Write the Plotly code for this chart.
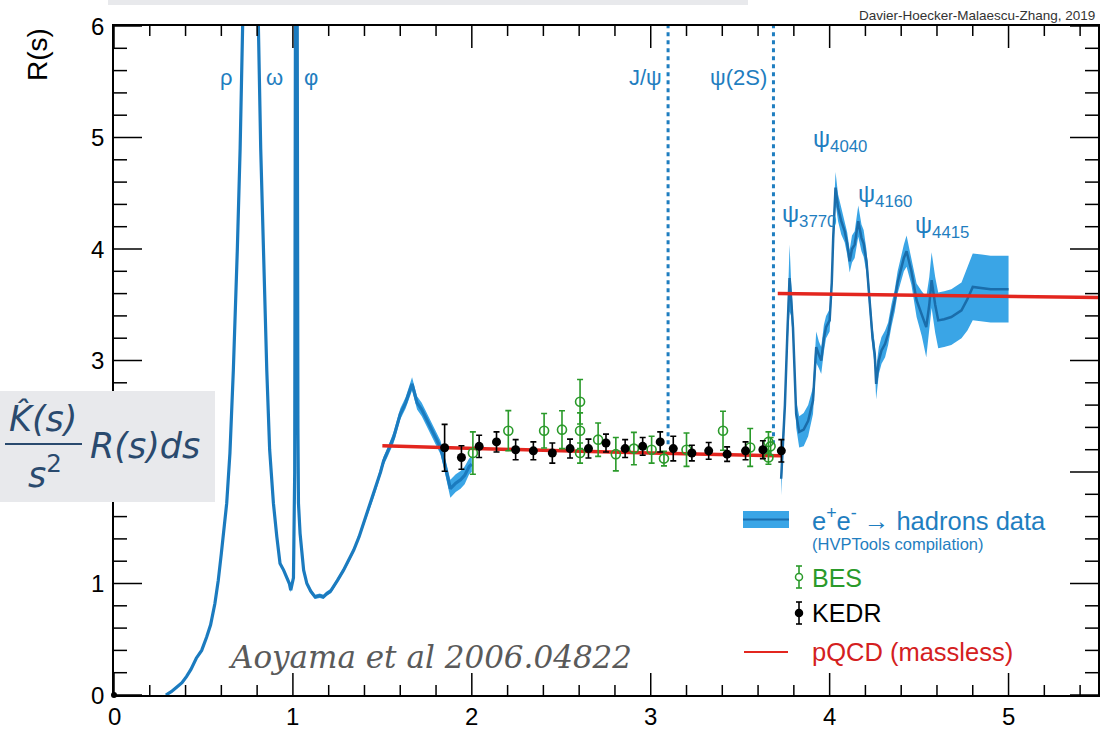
import plotly.graph_objects as go

# ---------------- data ----------------
# e+e- -> hadrons compilation, low-energy part (sqrt(s) in GeV, R)
lo_x = [0.29, 0.32, 0.35, 0.38, 0.405, 0.43, 0.46, 0.49, 0.518, 0.54,
        0.564, 0.583, 0.60, 0.611, 0.63, 0.648, 0.667, 0.689, 0.705, 0.719,
        0.74, 0.775, 0.782, 0.795, 0.807, 0.82, 0.835, 0.854, 0.87, 0.891,
        0.91, 0.928, 0.948, 0.966, 0.98, 0.988, 0.995, 1.003, 1.010, 1.016,
        1.019, 1.022, 1.028, 1.031, 1.04, 1.05, 1.06, 1.078, 1.10, 1.124,
        1.15, 1.17, 1.19, 1.21, 1.227, 1.25, 1.283, 1.31, 1.34, 1.37,
        1.395, 1.42, 1.45, 1.47, 1.49, 1.507, 1.53, 1.563, 1.60, 1.63,
        1.666, 1.694, 1.72, 1.75, 1.79, 1.825, 1.85, 1.88, 1.91, 1.937,
        1.96, 1.985, 2.0]
lo_y = [0.0, 0.03, 0.07, 0.11, 0.165, 0.23, 0.33, 0.40, 0.52, 0.63,
        0.82, 1.03, 1.27, 1.42, 1.72, 2.17, 2.91, 3.98, 4.9, 6.0,
        11.0, 33.0, 30.0, 12.0, 6.0, 4.9, 4.0, 2.91, 2.2, 1.72,
        1.42, 1.18, 1.12, 1.06, 1.0, 0.94, 0.98, 1.05, 2.0, 8.0,
        40.0, 8.0, 2.4, 1.72, 1.45, 1.24, 1.12, 1.0, 0.93, 0.88,
        0.89, 0.88, 0.91, 0.93, 0.97, 1.03, 1.12, 1.2, 1.30, 1.42,
        1.54, 1.65, 1.79, 1.90, 2.0, 2.10, 2.18, 2.31, 2.52, 2.62,
        2.79, 2.62, 2.56, 2.46, 2.34, 2.22, 2.06, 1.85, 1.90, 1.93,
        1.97, 2.05, 2.07]
lo_err = [0.01, 0.01, 0.01, 0.01, 0.01, 0.01, 0.01, 0.01, 0.01, 0.01,
          0.02, 0.02, 0.02, 0.02, 0.03, 0.03, 0.04, 0.05, 0.06, 0.08,
          0.1, 0.3, 0.3, 0.1, 0.08, 0.06, 0.05, 0.04, 0.03, 0.03,
          0.02, 0.02, 0.02, 0.02, 0.02, 0.02, 0.02, 0.02, 0.05, 0.1,
          0.5, 0.1, 0.05, 0.03, 0.02, 0.02, 0.02, 0.02, 0.02, 0.02,
          0.02, 0.02, 0.02, 0.02, 0.02, 0.02, 0.02, 0.02, 0.02, 0.02,
          0.03, 0.03, 0.03, 0.04, 0.04, 0.04, 0.04, 0.05, 0.05, 0.05,
          0.06, 0.06, 0.06, 0.06, 0.06, 0.06, 0.07, 0.08, 0.08, 0.08,
          0.08, 0.07, 0.07]

# charm region
hi_x = [3.729, 3.75, 3.765, 3.776, 3.785, 3.795, 3.813, 3.83, 3.855, 3.88,
        3.907, 3.915, 3.925, 3.94, 3.953, 3.968, 3.98, 4.0, 4.012, 4.02,
        4.033, 4.047, 4.065, 4.084, 4.098, 4.112, 4.125, 4.14, 4.16, 4.178,
        4.19, 4.206, 4.224, 4.24, 4.252, 4.26, 4.275, 4.29, 4.31, 4.327,
        4.345, 4.364, 4.38, 4.40, 4.415, 4.43, 4.457, 4.486, 4.515, 4.54,
        4.557, 4.57, 4.59, 4.607, 4.64, 4.68, 4.737, 4.77, 4.80, 4.85,
        4.90, 4.95, 5.0]
hi_y = [1.94, 2.6, 3.3, 3.74, 3.55, 3.30, 2.52, 2.36, 2.38, 2.46,
        2.64, 2.9, 3.12, 3.05, 3.0, 3.2, 3.30, 3.36, 3.7, 4.10,
        4.55, 4.37, 4.25, 4.16, 4.05, 3.89, 4.0, 4.04, 4.25, 4.10,
        4.05, 3.89, 3.48, 3.2, 3.06, 2.79, 3.0, 3.09, 3.15, 3.24,
        3.40, 3.54, 3.70, 3.83, 3.92, 3.98, 3.80, 3.54, 3.42, 3.30,
        3.50, 3.72, 3.50, 3.36, 3.37, 3.39, 3.45, 3.55, 3.66, 3.65,
        3.64, 3.64, 3.64]
hi_err = [0.15, 0.12, 0.15, 0.3, 0.15, 0.12, 0.12, 0.14, 0.15, 0.14,
          0.12, 0.14, 0.14, 0.12, 0.12, 0.12, 0.1, 0.1, 0.12, 0.12,
          0.14, 0.12, 0.12, 0.1, 0.1, 0.1, 0.12, 0.12, 0.14, 0.12,
          0.12, 0.1, 0.1, 0.1, 0.1, 0.14, 0.12, 0.12, 0.12, 0.1,
          0.1, 0.1, 0.1, 0.12, 0.12, 0.14, 0.12, 0.15, 0.2, 0.27,
          0.25, 0.25, 0.25, 0.25, 0.25, 0.25, 0.25, 0.28, 0.3, 0.3,
          0.3, 0.3, 0.3]

# pQCD (massless) prediction, two flavour regimes
pq_x = [1.5, 2.0, 2.5, 3.0, 3.5, 3.73, None, 3.71, 4.0, 4.5, 5.0, 5.5]
pq_y = [2.235, 2.21, 2.19, 2.17, 2.155, 2.145, None, 3.60, 3.595, 3.585, 3.575, 3.565]

# KEDR
kedr_x = [1.848, 1.942, 2.041, 2.138, 2.245, 2.344, 2.45, 2.549, 2.652, 2.75,
          2.857, 2.955, 3.053, 3.126, 3.23, 3.324, 3.427, 3.53, 3.627, 3.73]
kedr_y = [2.217, 2.13, 2.23, 2.27, 2.20, 2.19, 2.17, 2.21, 2.21, 2.26,
          2.21, 2.23, 2.27, 2.21, 2.17, 2.19, 2.16, 2.19, 2.20, 2.19]
kedr_e = [0.21, 0.105, 0.1, 0.09, 0.09, 0.08, 0.09, 0.085, 0.085, 0.08,
          0.08, 0.08, 0.09, 0.11, 0.07, 0.075, 0.065, 0.08, 0.08, 0.1]

# BES
bes_x = [2.006, 2.204, 2.404, 2.504, 2.605, 2.605, 2.605, 2.706, 2.805, 2.906,
         3.005, 3.074, 3.20, 3.404, 3.556, 3.658, 3.658, 3.67]
bes_y = [2.17, 2.37, 2.37, 2.38, 2.63, 2.37, 2.17, 2.29, 2.16, 2.21,
         2.20, 2.12, 2.20, 2.37, 2.22, 2.27, 2.13, 2.23]
bes_e = [0.19, 0.18, 0.155, 0.17, 0.20, 0.16, 0.09, 0.15, 0.15, 0.145,
         0.12, 0.065, 0.15, 0.175, 0.17, 0.09, 0.06, 0.08]

# narrow charmonium resonances (dotted lines)
res_mass = [3.097, 3.686]
res_names = ["J/ψ", "ψ(2S)"]
res_low, res_high = 2.25, 6.0

origin_x = [0.0]
origin_y = [0.0]

# axes
x_range = [0, 5.5]
y_range = [0, 6]
x_major = [0, 1, 2, 3, 4, 5]
y_major = [0, 1, 2, 3, 4, 5, 6]
y_labelled = [0, 1, 3, 4, 5, 6]   # "2" is hidden behind the formula box
minor_step = 0.2

# ---------------- style ----------------
BAND = "#3aa5e6"
LINE_LO = "#1b7bbf"
LINE_HI = "#1a6dab"
TXT_BLUE = "#1f7ec0"
GREEN = "#2a9a2a"
RED = "#e3261f"
FONT = "Liberation Sans"

L, R, T, B = 114, 8, 26, 34
W, H = 1106, 729
PW, PH = W - L - R, H - T - B
XPX = PW / (x_range[1] - x_range[0])   # pixels per x unit
YPX = PH / (y_range[1] - y_range[0])   # pixels per y unit


def fx(px):
    return (px - L) / PW


def fy(py):
    return (H - B - py) / PH


fig = go.Figure()


def add_band(xs, ys, es, line_color, lw):
    lower = [y - e for y, e in zip(ys, es)]
    upper = [y + e for y, e in zip(ys, es)]
    fig.add_trace(go.Scatter(x=xs, y=lower, mode="lines", line=dict(width=0, color=BAND),
                             hoverinfo="skip", showlegend=False))
    fig.add_trace(go.Scatter(x=xs, y=upper, mode="lines", line=dict(width=0, color=BAND),
                             fill="tonexty", fillcolor=BAND, hoverinfo="skip", showlegend=False))
    fig.add_trace(go.Scatter(x=xs, y=ys, mode="lines", line=dict(width=lw, color=line_color),
                             showlegend=False))


add_band(lo_x, lo_y, lo_err, LINE_LO, 3.2)
add_band(hi_x, hi_y, hi_err, LINE_HI, 2.5)

# dotted resonance lines
rx, ry = [], []
for m in res_mass:
    rx += [m, m, None]
    ry += [res_low, res_high, None]
fig.add_trace(go.Scatter(x=rx, y=ry, mode="lines",
                         line=dict(color=TXT_BLUE, width=3, dash="4px,4px"), showlegend=False))

fig.add_trace(go.Scatter(x=pq_x, y=pq_y, mode="lines", line=dict(color=RED, width=3.5),
                         showlegend=False))

fig.add_trace(go.Scatter(x=bes_x, y=bes_y, mode="markers",
                         marker=dict(symbol="circle-open", size=9, color=GREEN, line=dict(width=1.6)),
                         error_y=dict(type="data", array=bes_e, color=GREEN, thickness=1.6, width=3),
                         showlegend=False))
fig.add_trace(go.Scatter(x=kedr_x, y=kedr_y, mode="markers",
                         marker=dict(symbol="circle", size=9, color="black"),
                         error_y=dict(type="data", array=kedr_e, color="black", thickness=1.6, width=3),
                         showlegend=False))

# ROOT-style inside ticks on all four sides (drawn as line traces on the axes' own scale)
tx, ty = [], []
n_x = int(round((x_range[1] - x_range[0]) / minor_step))
for i in range(n_x + 1):
    v = round(x_range[0] + i * minor_step, 6)
    major = abs(v - round(v)) < 1e-6 and round(v) in x_major
    ln = (22 if major else 10) / YPX
    tx += [v, v, None, v, v, None]
    ty += [y_range[0], y_range[0] + ln, None, y_range[1], y_range[1] - ln, None]
n_y = int(round((y_range[1] - y_range[0]) / minor_step))
for i in range(n_y + 1):
    v = round(y_range[0] + i * minor_step, 6)
    major = abs(v - round(v)) < 1e-6 and round(v) in y_major
    ln = (28 if major else 13) / XPX
    tx += [x_range[0], x_range[0] + ln, None, x_range[1], x_range[1] - ln, None]
    ty += [v, v, None, v, v, None]
fig.add_trace(go.Scatter(x=tx, y=ty, mode="lines", line=dict(color="black", width=1.5),
                         hoverinfo="skip", showlegend=False))

fig.add_trace(go.Scatter(x=origin_x, y=origin_y, mode="markers", marker=dict(size=6, color="black"),
                         cliponaxis=False, showlegend=False))

axis_common = dict(showline=True, linecolor="black", linewidth=2, mirror=True,
                   showgrid=False, zeroline=False, ticks="", automargin=False,
                   showticklabels=False)

fig.update_layout(
    width=W, height=H,
    margin=dict(l=L, r=R, t=T, b=B, pad=0),
    paper_bgcolor="white", plot_bgcolor="white",
    xaxis=dict(range=x_range, **axis_common),
    yaxis=dict(range=y_range, **axis_common),
    showlegend=False,
)

shapes = []
ann = []

# tick labels placed on the axes' own scale
for v in x_major:
    ann.append(dict(x=v, y=fy(716), xref="x", yref="paper", text=str(v), showarrow=False,
                    xanchor="center", yanchor="middle",
                    font=dict(family=FONT, size=24, color="black")))
for v in y_labelled:
    ann.append(dict(x=fx(106), y=v, xref="paper", yref="y", text=str(v), showarrow=False,
                    xanchor="right", yanchor="middle",
                    font=dict(family=FONT, size=24, color="black")))


def text(px, py, s, size, color, xanchor="center", family=FONT, yanchor="middle", angle=0):
    ann.append(dict(x=fx(px), y=fy(py), xref="paper", yref="paper", text=s, showarrow=False,
                    xanchor=xanchor, yanchor=yanchor, textangle=angle,
                    font=dict(family=family, size=size, color=color)))


# axis title
text(37, 55, "R(s)", 28, "black", angle=-90)
# credit
text(1097, 15, "Davier-Hoecker-Malaescu-Zhang, 2019", 13.5, "#333333", xanchor="right")
# light-hadron resonance labels
text(226, 77, "ρ", 22, TXT_BLUE)
text(274, 77, "ω", 22, TXT_BLUE)
text(311, 77, "φ", 22, TXT_BLUE)
# charmonium labels
text(664, 77, res_names[0], 22, TXT_BLUE, xanchor="right")
text(769, 77, res_names[1], 22, TXT_BLUE, xanchor="right")
text(780, 215, "ψ<sub>3770</sub>", 24, TXT_BLUE, xanchor="left")
text(811, 140, "ψ<sub>4040</sub>", 24, TXT_BLUE, xanchor="left")
text(856, 195, "ψ<sub>4160</sub>", 24, TXT_BLUE, xanchor="left")
text(913, 226, "ψ<sub>4415</sub>", 24, TXT_BLUE, xanchor="left")
# reference note
text(430, 657, "<i>Aoyama et al 2006.04822</i>", 31, "#5a5a5a", family="DejaVu Serif")

# legend texts
text(810, 519, "e<sup>+</sup>e<sup>-</sup> → hadrons data", 25.5, TXT_BLUE, xanchor="left")
text(810, 544, "(HVPTools compilation)", 16.5, TXT_BLUE, xanchor="left")
text(810, 578, "BES", 25, GREEN, xanchor="left")
text(810, 613, "KEDR", 25, "black", xanchor="left")
text(810, 652, "pQCD (massless)", 25.5, "#d42020", xanchor="left")

# formula in the grey box
NAVY = "#2a4a6e"
text(43, 418, "<i>K\u0302(s)</i>", 35, NAVY, family="DejaVu Sans")
text(45, 472, "<i>s</i><sup>2</sup>", 35, NAVY, family="DejaVu Sans")
text(88, 446, "<i>R(s)ds</i>", 35, NAVY, family="DejaVu Sans", xanchor="left")

GREY = "#e8e9ec"
shapes.append(dict(type="rect", xref="paper", yref="paper", x0=fx(0), x1=fx(215), y0=fy(502), y1=fy(391),
                   fillcolor=GREY, line=dict(width=0), layer="above"))
shapes.append(dict(type="rect", xref="paper", yref="paper", x0=fx(108), x1=fx(748), y0=fy(5), y1=fy(-2),
                   fillcolor=GREY, line=dict(width=0), layer="above"))
shapes.append(dict(type="line", xref="paper", yref="paper", x0=fx(5), x1=fx(82), y0=fy(444), y1=fy(444),
                   line=dict(color=NAVY, width=2), layer="above"))

# legend symbols
shapes.append(dict(type="rect", xref="paper", yref="paper", x0=fx(743), x1=fx(789), y0=fy(528), y1=fy(511),
                   fillcolor=BAND, line=dict(width=0), layer="above"))
shapes.append(dict(type="line", xref="paper", yref="paper", x0=fx(743), x1=fx(789), y0=fy(519.5), y1=fy(519.5),
                   line=dict(color=LINE_HI, width=2), layer="above"))
for (yc, col, filled) in [(577, GREEN, False), (613, "black", True)]:
    shapes.append(dict(type="line", xref="paper", yref="paper", x0=fx(799), x1=fx(799),
                       y0=fy(yc - 11), y1=fy(yc + 11), line=dict(color=col, width=1.6), layer="above"))
    for yy in (yc - 11, yc + 11):
        shapes.append(dict(type="line", xref="paper", yref="paper", x0=fx(796), x1=fx(802),
                           y0=fy(yy), y1=fy(yy), line=dict(color=col, width=1.6), layer="above"))
    shapes.append(dict(type="circle", xref="paper", yref="paper", x0=fx(795.5), x1=fx(802.5),
                       y0=fy(yc + 3.5), y1=fy(yc - 3.5), fillcolor="white" if not filled else col,
                       line=dict(color=col, width=1.5), layer="above"))
shapes.append(dict(type="line", xref="paper", yref="paper", x0=fx(744), x1=fx(788), y0=fy(652), y1=fy(652),
                   line=dict(color=RED, width=2), layer="above"))

fig.update_layout(annotations=ann, shapes=shapes)
fig.write_html("out.html")
